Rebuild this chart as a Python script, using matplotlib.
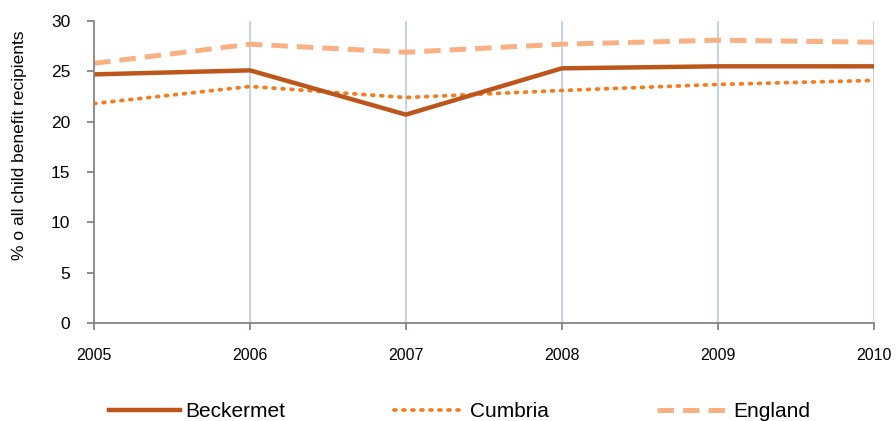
import matplotlib.pyplot as plt
import numpy as np

plt.rcParams['font.family'] = ['Liberation Sans', 'DejaVu Sans']

years = [2005, 2006, 2007, 2008, 2009, 2010]
beckermet = [24.7, 25.1, 20.7, 25.3, 25.5, 25.5]
cumbria = [21.8, 23.5, 22.4, 23.1, 23.7, 24.1]
england = [25.8, 27.7, 26.9, 27.7, 28.1, 27.9]

fig = plt.figure(figsize=(8.96, 4.21), dpi=100)
ax = fig.add_axes([0.105, 0.233, 0.870, 0.717])

for yr in years[1:]:
    ax.axvline(yr, color='#b9cde5', lw=1.2, zorder=0)

ax.plot(years, england, color='#f9b184', lw=3.6, dashes=(3.3, 1.8),
        label='England', solid_capstyle='butt')
ax.plot(years, cumbria, color='#f47d20', lw=2.7, ls=(0, (0.5, 1.9)),
        dash_capstyle='round', label='Cumbria')
ax.plot(years, beckermet, color='#bd561b', lw=3.2, label='Beckermet')

ax.set_xlim(2005, 2010)
ax.set_ylim(0, 30)
ax.set_xticks(years)
ax.set_yticks(np.arange(0, 31, 5))
for s in ['top', 'right']:
    ax.spines[s].set_visible(False)
for s in ['left', 'bottom']:
    ax.spines[s].set_color('#868686')
    ax.spines[s].set_linewidth(1.3)
ax.tick_params(axis='x', length=5, width=1.3, color='#868686', pad=13, labelsize=11.5)
ax.tick_params(axis='y', length=5, width=1.3, color='#868686', pad=12, labelsize=12.5)
ax.set_ylabel('% o all child benefit recipients', fontsize=12.5)
ax.yaxis.set_label_coords(-0.086, 0.59)

handles, labels = ax.get_legend_handles_labels()
order = [2, 1, 0]
fig.legend([handles[i] for i in order], [labels[i] for i in order],
           loc='lower center', bbox_to_anchor=(0.513, -0.045), ncol=3,
           frameon=False, fontsize=15, handlelength=3.4, handletextpad=0.25,
           columnspacing=5.2)

fig.savefig('out.png', dpi=100)
